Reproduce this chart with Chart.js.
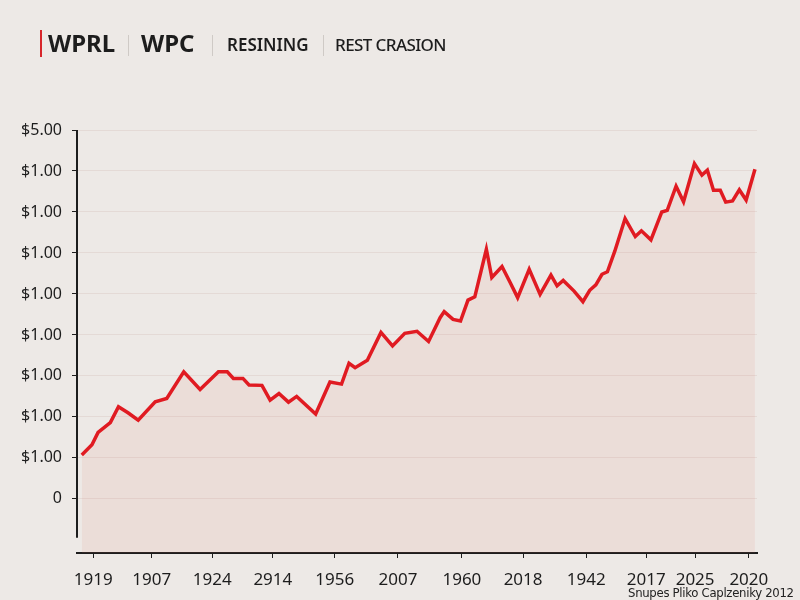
<!DOCTYPE html>
<html>
<head>
<meta charset="utf-8">
<script src="https://cdn.jsdelivr.net/npm/chart.js@4.4.1/dist/chart.umd.min.js"></script>
<style>
  html, body { margin: 0; padding: 0; background: #ede9e6; }
  #wrap { position: relative; width: 800px; height: 600px; overflow: hidden; }
  #chart { position: absolute; left: 0; top: 0; }
  .hd { position: absolute; font-family: "Noto Sans", sans-serif; color: #1d1d1d; white-space: nowrap; }
  .big { font-size: 24px; line-height: 24px; font-weight: 700; top: 31px; }
  .small { font-size: 17px; line-height: 17px; top: 36px; }
  .sep { position: absolute; top: 35px; width: 1px; height: 21px; background: #cfcac6; }
  #bar { position: absolute; left: 40px; top: 30px; width: 2px; height: 27px; background: #d8262b; }
  #src { position: absolute; left: 628px; top: 586px; font-family: "DejaVu Sans Condensed", sans-serif;
         font-size: 13px; line-height: 13px; color: #222; white-space: nowrap; letter-spacing: -0.3px; }
</style>
</head>
<body>
<div id="wrap">
  <canvas id="chart" width="800" height="600"></canvas>
  <div id="bar"></div>
  <div class="hd big" style="left:48px">WPRL</div>
  <div class="sep" style="left:128px"></div>
  <div class="hd big" style="left:141px">WPC</div>
  <div class="sep" style="left:212px"></div>
  <div class="hd small" style="left:227px;font-weight:600">RESINING</div>
  <div class="sep" style="left:323px"></div>
  <div class="hd small" style="left:335px;font-weight:500;letter-spacing:-0.6px">REST CRASION</div>
  <div id="src">Snupes Pliko Caplzeniky 2012</div>
</div>
<script>
// --- data ---
const xValues = [0.7, 2.2, 3.1, 4.9, 6.1, 7.5, 9.0, 11.5, 13.2, 15.7, 18.1, 20.8, 22.1, 23.0, 24.4, 25.3,
  27.2, 28.4, 29.7, 31.1, 32.3, 35.1, 37.2, 38.9, 40.0, 40.9, 42.7, 44.7, 46.4, 48.2, 50.0, 51.7,
  53.4, 54.0, 55.3, 56.4, 57.5, 58.5, 60.2, 61.0, 62.5, 63.7, 64.8, 66.5, 68.1, 69.7, 70.6, 71.5,
  73.1, 74.4, 75.4, 76.3, 77.2, 78.0, 79.1, 80.6, 82.1, 83.0, 84.4, 86.0, 86.8, 88.1, 89.2, 90.8,
  91.9, 92.7, 93.6, 94.6, 95.4, 96.4, 97.4, 98.4, 99.7];
const yValues = [1.07, 1.32, 1.62, 1.86, 2.25, 2.10, 1.92, 2.37, 2.45, 3.10, 2.67, 3.10, 3.10, 2.94, 2.94, 2.78,
  2.77, 2.41, 2.57, 2.36, 2.50, 2.07, 2.85, 2.80, 3.31, 3.20, 3.38, 4.06, 3.73, 4.04, 4.09, 3.84,
  4.42, 4.57, 4.38, 4.34, 4.85, 4.93, 6.09, 5.40, 5.67, 5.28, 4.91, 5.60, 4.99, 5.46, 5.20, 5.33,
  5.07, 4.81, 5.09, 5.22, 5.48, 5.54, 6.05, 6.84, 6.40, 6.54, 6.32, 7.00, 7.04, 7.63, 7.25, 8.18,
  7.90, 8.02, 7.53, 7.53, 7.24, 7.27, 7.54, 7.29, 8.04];

const xTickValues = [2.4, 11.0, 19.9, 28.8, 37.9, 47.2, 56.6, 65.6, 74.9, 83.7, 90.9, 98.8];
const xTickLabels = ['1919', '1907', '1924', '2914', '1956', '2007', '1960', '2018', '1942', '2017', '2025', '2020'];
const yTickValues = [0, 1, 2, 3, 4, 5, 6, 7, 8, 9];
const yTickLabels = ['0', '$1.00', '$1.00', '$1.00', '$1.00', '$1.00', '$1.00', '$1.00', '$1.00', '$5.00'];

// y axis line stops a little above the x axis
const yAxisLine = {
    id: 'yAxisLine',
    afterDatasetsDraw(chart) {
        const { ctx, chartArea, scales } = chart;
        ctx.save();
        ctx.strokeStyle = '#1d1d1d';
        ctx.lineWidth = 2;
        ctx.beginPath();
        ctx.moveTo(chartArea.left, chartArea.top);
        ctx.lineTo(chartArea.left, scales.y.getPixelForValue(-0.95));
        ctx.stroke();
        ctx.restore();
    }
};

const points = xValues.map((x, i) => ({ x: x, y: yValues[i] }));

new Chart(document.getElementById('chart'), {
    type: 'line',
    data: {
        datasets: [{
            data: points,
            borderColor: '#e01b22',
            borderWidth: 3.5,
            backgroundColor: 'rgba(228, 120, 100, 0.10)',
            fill: 'start',
            pointRadius: 0,
            tension: 0,
            borderJoinStyle: 'miter'
        }]
    },
    options: {
        responsive: false,
        animation: false,
        layout: { padding: { left: 0, right: 43, top: 130, bottom: 0 } },
        plugins: { legend: { display: false }, tooltip: { enabled: false } },
        scales: {
            x: {
                type: 'linear',
                min: 0,
                max: 100,
                afterBuildTicks: s => { s.ticks = xTickValues.map(v => ({ value: v })); },
                afterFit: s => { s.height = 47; },
                grid: { drawOnChartArea: false, drawTicks: true, tickLength: 5, tickColor: '#1d1d1d', tickWidth: 1 },
                border: { display: true, color: '#1d1d1d', width: 2 },
                ticks: {
                    autoSkip: false,
                    maxRotation: 0,
                    padding: 12,
                    color: '#1d1d1d',
                    font: { family: 'Noto Sans', size: 17 },
                    callback: (v, i) => xTickLabels[i]
                }
            },
            y: {
                min: -1.32,
                max: 9,
                afterBuildTicks: s => { s.ticks = yTickValues.map(v => ({ value: v })); },
                afterFit: s => { s.width = 77; },
                grid: { color: '#e4dad6', lineWidth: 1, tickLength: 5, tickColor: '#1d1d1d' },
                border: { display: false },
                ticks: {
                    padding: 10,
                    color: '#1d1d1d',
                    font: { family: 'Noto Sans', size: 16 },
                    callback: (v, i) => yTickLabels[i]
                }
            }
        }
    },
    plugins: [yAxisLine]
});
</script>
</body>
</html>
